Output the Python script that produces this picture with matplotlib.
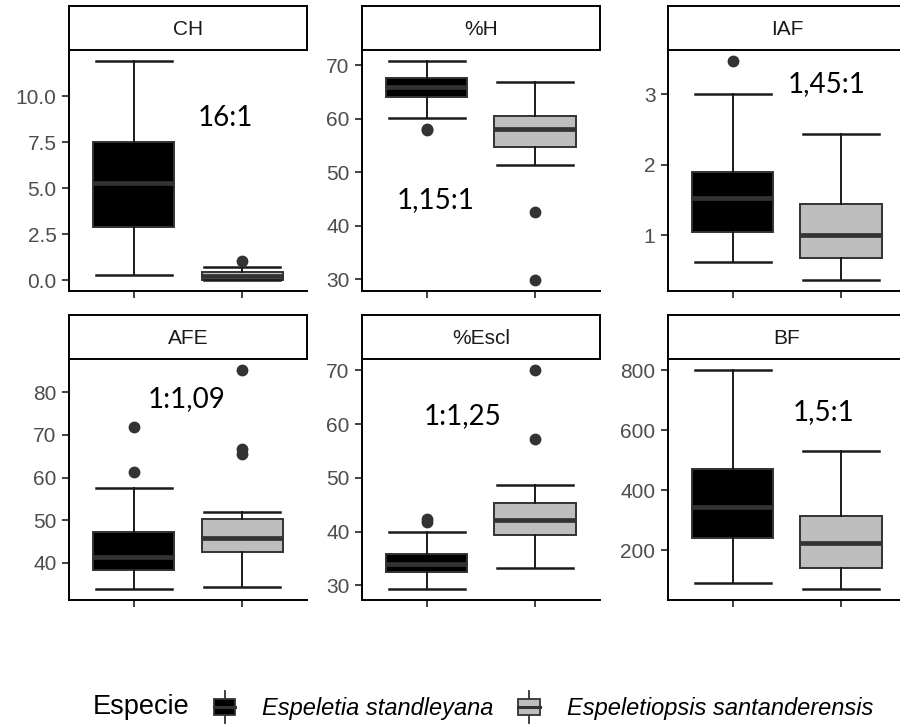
import matplotlib
matplotlib.use("Agg")
import matplotlib.pyplot as plt
from matplotlib.patches import Patch, Rectangle
from matplotlib.lines import Line2D
from matplotlib.legend_handler import HandlerBase

# Data
variables = ["CH", "%H", "IAF", "AFE", "%Escl", "BF"]
species = ["Espeletia standleyana", "Espeletiopsis santanderensis"]
species_colors = ["#000000", "#BEBEBE"]

# per variable: [whislo, q1, median, q3, whishi] for each species
stand_five = [
    [0.27, 2.88, 5.27, 7.50, 11.9],
    [60.1, 64.0, 65.9, 67.5, 70.7],
    [0.62, 1.05, 1.53, 1.90, 3.00],
    [33.8, 38.2, 41.3, 47.3, 57.5],
    [29.3, 32.5, 34.0, 35.9, 39.9],
    [92, 242, 345, 471, 800],
]
sant_five = [
    [0.00, 0.03, 0.22, 0.45, 0.69],
    [51.3, 54.7, 58.0, 60.5, 66.9],
    [0.36, 0.67, 1.00, 1.44, 2.43],
    [34.2, 42.5, 45.8, 50.2, 51.9],
    [33.2, 39.4, 42.2, 45.3, 48.7],
    [71, 142, 223, 315, 531],
]
stand_out = [[], [57.8, 58.1], [3.47], [61.4, 71.9], [41.8, 42.4], []]
sant_out = [[1.05], [42.6, 29.8], [], [65.6, 66.8, 85.2], [57.2, 70.0], []]

yticks = [
    [0, 2.5, 5, 7.5, 10],
    [30, 40, 50, 60, 70],
    [1, 2, 3],
    [40, 50, 60, 70, 80],
    [30, 40, 50, 60, 70],
    [200, 400, 600, 800],
]
ytick_labels = [
    ["0.0", "2.5", "5.0", "7.5", "10.0"],
    ["30", "40", "50", "60", "70"],
    ["1", "2", "3"],
    ["40", "50", "60", "70", "80"],
    ["30", "40", "50", "60", "70"],
    ["200", "400", "600", "800"],
]

ratios = ["16:1", "1,15:1", "1,45:1", "1:1,09", "1:1,25", "1,5:1"]
ratio_x = [1.85, 1.08, 1.87, 1.49, 1.33, 1.84]
ratio_y = [8.37, 43.3, 3.03, 76.45, 60.0, 633]

EDGE = "#333333"


class BoxKey(HandlerBase):
    # ggplot-like boxplot legend key
    def create_artists(self, legend, orig_handle, xdescent, ydescent,
                       width, height, fontsize, trans):
        x0, y0 = -xdescent, -ydescent
        cx = x0 + width / 2
        lw = 1.3
        low = Line2D([cx, cx], [y0, y0 + 0.25 * height], color=EDGE, lw=lw, transform=trans)
        high = Line2D([cx, cx], [y0 + 0.75 * height, y0 + height], color=EDGE, lw=lw, transform=trans)
        box = Rectangle((x0 + 0.125 * width, y0 + 0.25 * height), 0.75 * width, 0.5 * height,
                        facecolor=orig_handle.get_facecolor(), edgecolor=EDGE, lw=lw, transform=trans)
        med = Line2D([x0 + 0.125 * width, x0 + 0.875 * width], [y0 + 0.5 * height] * 2,
                     color=EDGE, lw=2.2, transform=trans)
        return [low, high, box, med]


fig = plt.figure(figsize=(9, 7.27), dpi=100)

lefts = [0.0767, 0.4022, 0.7422]
panel_bottoms = [0.5997, 0.1747]
panel_h = 0.331
strip_h = 0.0615
panel_w = 0.2644

for i, var in enumerate(variables):
    row, col = divmod(i, 3)
    ax = fig.add_axes([lefts[col], panel_bottoms[row], panel_w, panel_h])
    sax = fig.add_axes([lefts[col], panel_bottoms[row] + panel_h, panel_w, strip_h])

    stats = []
    for five, out in [(stand_five[i], stand_out[i]), (sant_five[i], sant_out[i])]:
        stats.append(dict(whislo=five[0], q1=five[1], med=five[2], q3=five[3],
                          whishi=five[4], fliers=out))
    bp = ax.bxp(stats, positions=[1, 2], widths=0.75, capwidths=0.7,
                patch_artist=True, showfliers=True,
                boxprops=dict(edgecolor=EDGE, linewidth=1.4),
                whiskerprops=dict(color="#1A1A1A", linewidth=1.4),
                capprops=dict(color="#1A1A1A", linewidth=1.8),
                medianprops=dict(color=EDGE, linewidth=3.4),
                flierprops=dict(marker="o", markerfacecolor=EDGE, markeredgecolor=EDGE,
                                markersize=7.5))
    for patch, c in zip(bp["boxes"], species_colors):
        patch.set_facecolor(c)

    # ggplot style 5% expansion
    vals = stand_five[i] + sant_five[i] + stand_out[i] + sant_out[i]
    lo, hi = min(vals), max(vals)
    pad = 0.05 * (hi - lo)
    ax.set_ylim(lo - pad, hi + pad)
    ax.set_xlim(0.4, 2.6)
    ax.set_yticks(yticks[i])
    ax.set_yticklabels(ytick_labels[i], fontfamily="Liberation Sans")
    ax.set_xticks([1, 2])
    ax.set_xticklabels(["", ""])
    ax.tick_params(axis="both", labelsize=15, labelcolor="#4D4D4D", color=EDGE,
                   length=5, width=1.3, pad=4)
    for s in ["top", "right"]:
        ax.spines[s].set_visible(False)
    for s in ["left", "bottom"]:
        ax.spines[s].set_color("black")
        ax.spines[s].set_linewidth(1.4)

    ax.text(ratio_x[i], ratio_y[i], ratios[i], ha="center", va="baseline",
            fontsize=20, fontfamily="Lato", color="black")

    # facet strip
    sax.set_xticks([])
    sax.set_yticks([])
    for s in sax.spines.values():
        s.set_color("black")
        s.set_linewidth(1.4)
    sax.text(0.5, 0.46, var, ha="center", va="center", fontsize=15,
             fontfamily="Liberation Sans", color="#1A1A1A", transform=sax.transAxes)

# legend
fig.text(0.1033, 0.0275, "Especie", ha="left", va="center", fontsize=19.5,
         fontfamily="Liberation Sans", color="black")
handles = [Patch(facecolor=c) for c in species_colors]
fig.legend(handles, species, loc="center left", bbox_to_anchor=(0.234, 0.0275),
           ncol=2, frameon=False, handler_map={Patch: BoxKey()},
           handlelength=1.19, handleheight=1.7, handletextpad=1.0, columnspacing=0.9,
           borderpad=0, borderaxespad=0,
           prop={"family": "Liberation Sans", "style": "italic", "size": 17})

fig.savefig("out.png", dpi=100)
